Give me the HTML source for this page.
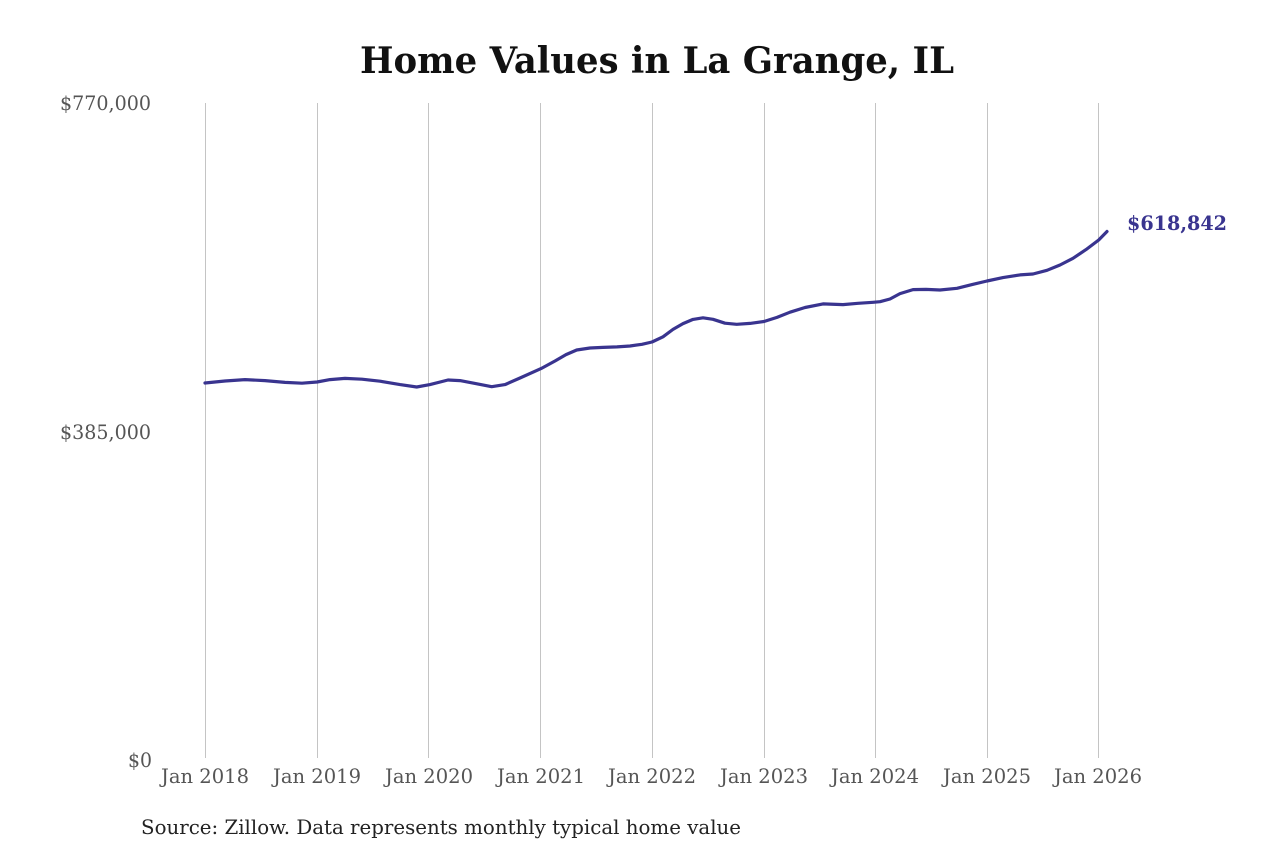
<!DOCTYPE html>
<html>
<head>
<meta charset="utf-8">
<style>
  html, body { margin: 0; padding: 0; background: #ffffff; }
  svg { display: block; }
  text { font-family: "DejaVu Serif", "Liberation Serif", serif; }
</style>
</head>
<body>
<svg width="1280" height="853" viewBox="0 0 1280 853" xmlns="http://www.w3.org/2000/svg">
  <rect x="0" y="0" width="1280" height="853" fill="#ffffff"/>

  <!-- Title -->
  <text x="657" y="73" text-anchor="middle" font-size="36" font-weight="bold" fill="#111111" textLength="594" lengthAdjust="spacingAndGlyphs">Home Values in La Grange, IL</text>

  <!-- Vertical grid lines -->
  <g stroke="#c4c4c4" stroke-width="1">
    <line x1="205.5" y1="103" x2="205.5" y2="758"/>
    <line x1="317.5" y1="103" x2="317.5" y2="758"/>
    <line x1="428.5" y1="103" x2="428.5" y2="758"/>
    <line x1="540.5" y1="103" x2="540.5" y2="758"/>
    <line x1="652.5" y1="103" x2="652.5" y2="758"/>
    <line x1="764.5" y1="103" x2="764.5" y2="758"/>
    <line x1="875.5" y1="103" x2="875.5" y2="758"/>
    <line x1="987.5" y1="103" x2="987.5" y2="758"/>
    <line x1="1098.5" y1="103" x2="1098.5" y2="758"/>
  </g>

  <!-- Y axis labels -->
  <g font-size="20" fill="#555555">
    <text x="60" y="110" textLength="91" lengthAdjust="spacingAndGlyphs">$770,000</text>
    <text x="60" y="439" textLength="91" lengthAdjust="spacingAndGlyphs">$385,000</text>
    <text x="128" y="767" textLength="24" lengthAdjust="spacingAndGlyphs">$0</text>
  </g>

  <!-- X axis labels -->
  <g font-size="20" fill="#555555" text-anchor="middle">
    <text x="205" y="783" textLength="88" lengthAdjust="spacingAndGlyphs">Jan 2018</text>
    <text x="317" y="783" textLength="88" lengthAdjust="spacingAndGlyphs">Jan 2019</text>
    <text x="429" y="783" textLength="88" lengthAdjust="spacingAndGlyphs">Jan 2020</text>
    <text x="541" y="783" textLength="88" lengthAdjust="spacingAndGlyphs">Jan 2021</text>
    <text x="652" y="783" textLength="88" lengthAdjust="spacingAndGlyphs">Jan 2022</text>
    <text x="764" y="783" textLength="88" lengthAdjust="spacingAndGlyphs">Jan 2023</text>
    <text x="875" y="783" textLength="88" lengthAdjust="spacingAndGlyphs">Jan 2024</text>
    <text x="987" y="783" textLength="88" lengthAdjust="spacingAndGlyphs">Jan 2025</text>
    <text x="1098" y="783" textLength="88" lengthAdjust="spacingAndGlyphs">Jan 2026</text>
  </g>

  <!-- Data line -->
  <polyline fill="none" stroke="#39348f" stroke-width="3.2" stroke-linejoin="round" stroke-linecap="round"
    points="205,383 225,381 245,379.6 265,380.6 285,382.4 302,383.2 317,382 330,379.6 345,378.4 362,379.2 380,381.2 400,384.6 416.7,387 430,384.6 448,380 460,380.6 475,383.4 491.7,386.7 505,384.6 520,378 541,368.6 555,361 566,354.6 576.7,350 590,348 603,347.4 617,346.9 630,346 642,344.3 652,342 663,336.8 673,329.4 683,323.6 693,319.4 703,317.8 713,319.3 725,323.2 736.7,324.3 750,323.4 764,321.5 777,317.4 790,312.2 805,307.5 823,303.9 843,304.6 858,303.3 873,302.3 880,301.7 890,299 900,293.6 913,289.6 926,289.4 940,290 957,288.3 972,284.6 987,281 1003,277.6 1020,274.9 1033,274 1047,270.3 1060,265 1073,258.3 1086,249.6 1098.7,240 1107,231.5"/>

  <!-- End label -->
  <text x="1127" y="230" font-size="20" font-weight="bold" fill="#39348f" textLength="100" lengthAdjust="spacingAndGlyphs">$618,842</text>

  <!-- Source -->
  <text x="141" y="834" font-size="20" fill="#222222" textLength="600" lengthAdjust="spacingAndGlyphs">Source: Zillow. Data represents monthly typical home value</text>
</svg>
</body>
</html>
